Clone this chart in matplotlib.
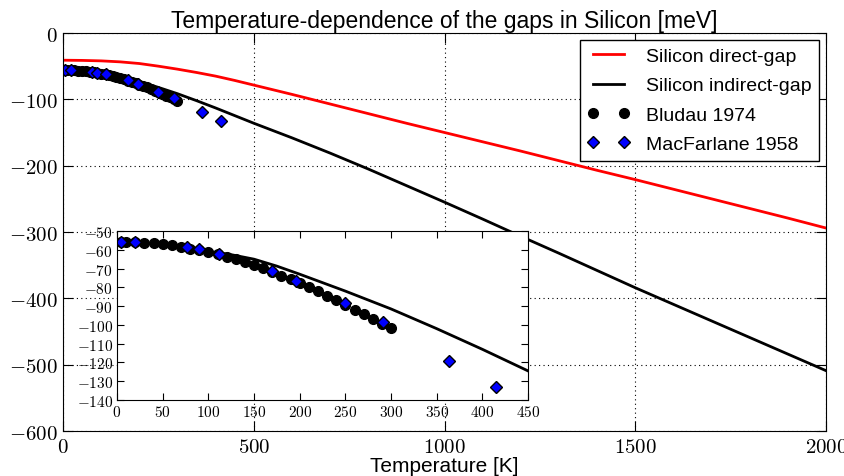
import matplotlib.pyplot as plt
from matplotlib.ticker import FuncFormatter, MultipleLocator

plt.rcParams['mathtext.fontset'] = 'cm'
plt.rcParams['font.family'] = ['Liberation Sans', 'DejaVu Sans']

# model curves for the gaps (meV, relative to 0 K reference)
t_direct = [0, 50, 100, 150, 200, 250, 300, 350, 400, 450, 500, 600, 700, 800, 900,
            1000, 1100, 1200, 1300, 1400, 1500, 1600, 1700, 1800, 1900, 2000]
e_direct = [-41, -41.3, -42, -43.5, -46, -50, -54.5, -59.5, -65, -71.5, -78.5, -92.5, -107, -121.5, -136,
            -150, -164, -178, -192.5, -207, -221, -235.5, -250, -264.5, -279, -294]

t_indirect = [0, 25, 50, 75, 100, 125, 150, 175, 200, 250, 300, 350, 400, 450, 500, 600, 700, 800, 900,
              1000, 1100, 1200, 1300, 1400, 1500, 1600, 1700, 1800, 1900, 2000]
e_indirect = [-56, -56.2, -57, -58.5, -60.8, -62.6, -65, -68.7, -73, -82, -91.5, -102, -113, -124.5, -136,
              -158, -181, -205, -230, -255, -280.5, -306.5, -332, -358, -384, -409, -434, -459, -484, -509]

# experimental data
t_bludau = [4, 10, 20, 30, 40, 50, 60, 70, 80, 90, 100, 110, 120, 130, 140, 150, 160, 170, 180, 190,
            200, 210, 220, 230, 240, 250, 260, 270, 280, 290, 300]
e_bludau = [-56, -56, -56, -56.4, -56.6, -56.9, -57.5, -58.3, -59.4, -60.3, -61.2, -62.4, -63.7, -64.9,
            -66.5, -68.1, -69.9, -71.7, -73.8, -75.7, -77.9, -80.0, -82.1, -84.6, -86.9, -89.6, -91.9,
            -94.4, -96.9, -99.4, -101.8]

t_macfarlane = [4.2, 20, 77, 90, 112, 170, 196, 250, 291, 363, 415]
e_macfarlane = [-56, -56, -58.7, -59.8, -62.4, -71.3, -76.5, -88.2, -98.5, -119.1, -133.1]

mathfmt = FuncFormatter(lambda v, p: r'$%d$' % v)

fig = plt.figure(figsize=(8.45, 4.77), dpi=100)
ax = fig.add_axes([0.0746, 0.0943, 0.9029, 0.8344])

ax.plot(t_direct, e_direct, color='red', lw=2, label='Silicon direct-gap')
ax.plot(t_indirect, e_indirect, color='black', lw=2, label='Silicon indirect-gap')
ax.plot(t_bludau, e_bludau, 'o', color='black', ms=7, label='Bludau 1974')
ax.plot(t_macfarlane, e_macfarlane, 'D', color='blue', mec='black', ms=6, label='MacFarlane 1958')

ax.set_xlim(0, 2000)
ax.set_ylim(-600, 0)
ax.xaxis.set_major_locator(MultipleLocator(500))
ax.yaxis.set_major_locator(MultipleLocator(100))
ax.xaxis.set_major_formatter(mathfmt)
ax.yaxis.set_major_formatter(mathfmt)
ax.tick_params(direction='in', top=True, right=True, labelsize=15, length=7, pad=4)
ax.grid(True, color='black', linestyle=(0, (1, 3)), linewidth=0.8)
ax.set_xlabel('Temperature [K]', fontsize=15, labelpad=0)
ax.set_title('Temperature-dependence of the gaps in Silicon [meV]', fontsize=16.5, pad=4)

leg = ax.legend(loc='upper right', numpoints=2, fontsize=14, fancybox=False,
                framealpha=1, borderaxespad=0.35, handlelength=2.2, labelspacing=0.6)
leg.get_frame().set_edgecolor('black')

# zoom on the low-temperature region
ins = fig.add_axes([0.1385, 0.1593, 0.4864, 0.3543])
ins.plot(t_indirect, e_indirect, color='black', lw=2)
ins.plot(t_bludau, e_bludau, 'o', color='black', ms=7)
ins.plot(t_macfarlane, e_macfarlane, 'D', color='blue', mec='black', ms=6)
ins.set_xlim(0, 450)
ins.set_ylim(-140, -50)
ins.xaxis.set_major_locator(MultipleLocator(50))
ins.yaxis.set_major_locator(MultipleLocator(10))
ins.xaxis.set_major_formatter(mathfmt)
ins.yaxis.set_major_formatter(mathfmt)
ins.tick_params(direction='in', top=True, right=True, labelsize=11, length=5, pad=3)

fig.savefig('out.png', dpi=100)
